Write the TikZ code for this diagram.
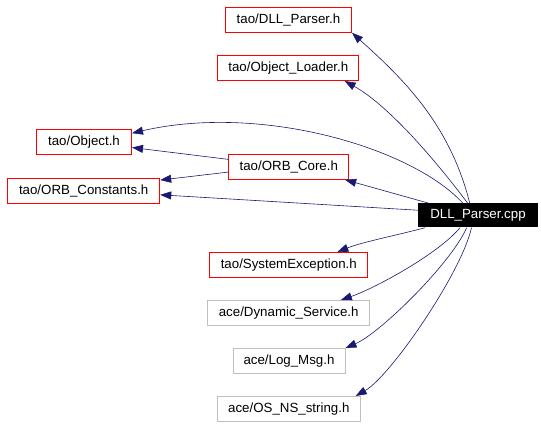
\documentclass[tikz,border=0pt]{standalone}
\usepackage{fontspec}
\setmainfont{Liberation Sans}
\usetikzlibrary{arrows.meta}
\definecolor{edgeblue}{HTML}{191970}
\definecolor{grayline}{HTML}{BFBFBF}

\begin{document}
\begin{tikzpicture}[x=1pt, y=-1pt]
\tikzset{every node/.style={font=\fontsize{13.3}{16}\selectfont, minimum height=25pt, inner sep=0pt},
    hdr/.style={draw=red, line width=1pt},
    sys/.style={draw=grayline, line width=1pt},
    src/.style={fill=black, text=white},
    dep/.style={draw=edgeblue, line width=0.6pt, -{Triangle[length=11pt, width=8pt]}}}
    \useasboundingbox (0,0) rectangle (541,427);

    \node[hdr, minimum width=126pt] (dllh) at (288.5, 19.8) {tao/DLL\_Parser.h};
    \node[hdr, minimum width=141pt] (objl) at (288.3, 68) {tao/Object\_Loader.h};
    \node[hdr, minimum width=95pt] (obj) at (84, 142.5) {tao/Object.h};
    \node[hdr, minimum width=120pt] (orbc) at (288.8, 166.8) {tao/ORB\_Core.h};
    \node[hdr, minimum width=152pt] (orbk) at (83.7, 190.8) {tao/ORB\_Constants.h};
    \node[src, minimum width=120pt, minimum height=24pt] (cpp) at (478, 215.5) {DLL\_Parser.cpp};
    \node[hdr, minimum width=158pt] (sysx) at (288.8, 265) {tao/SystemException.h};
    \node[sys, minimum width=162pt] (dyns) at (288.7, 313) {ace/Dynamic\_Service.h};
    \node[sys, minimum width=112pt] (logm) at (289, 361) {ace/Log\_Msg.h};
    \node[sys, minimum width=143pt] (osns) at (288.8, 409) {ace/OS\_NS\_string.h};

    \draw[dep] (cpp.124) .. controls +(-20,-80) and +(50,45) .. (dllh.south east);
    \draw[dep] (cpp.130) .. controls +(-30,-40) and +(45,25) .. (objl.-13);
    \draw[dep] (cpp.141) .. controls +(-50,-55) and +(130,-30) .. (obj.11);
    \draw[dep] (orbc.173) -- (obj.-6);
    \draw[dep] (orbc.185) -- (orbk.8);
    \draw[dep] (cpp.175) -- (orbk.-3);
    \draw[dep] (cpp.166) -- (orbc.-13);
    \draw[dep] (cpp.193) .. controls +(-30,8) and +(25,-10) .. (sysx.15);
    \draw[dep] (cpp.214) .. controls +(-20,25) and +(35,-12) .. (dyns.14);
    \draw[dep] (cpp.227) .. controls +(-15,35) and +(35,-15) .. (logm.north east);
    \draw[dep] (cpp.242) .. controls +(-10,45) and +(35,-20) .. (osns.11);
\end{tikzpicture}
\end{document}
